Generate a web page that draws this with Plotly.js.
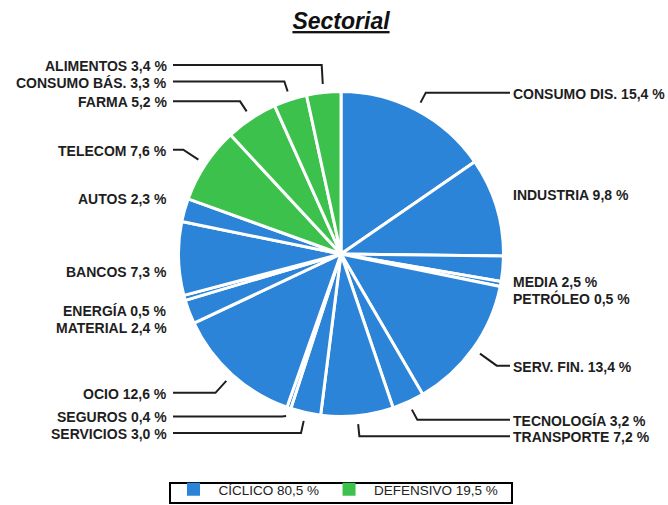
<!DOCTYPE html>
<html><head><meta charset="utf-8">
<script src="https://cdn.plot.ly/plotly-3.0.1.min.js"></script>
<style>html,body{margin:0;padding:0;background:#fff;}#chart{width:668px;height:505px;}</style>
</head><body><div id="chart"></div>
<script>
// ---- data ----
const sectors = ['CONSUMO DIS.','INDUSTRIA','MEDIA','PETRÓLEO','SERV. FIN.','TECNOLOGÍA','TRANSPORTE','SERVICIOS','SEGUROS','OCIO','MATERIAL','ENERGÍA','BANCOS','AUTOS','TELECOM','FARMA','CONSUMO BÁS.','ALIMENTOS'];
const weights = [15.4,9.8,2.5,0.5,13.4,3.2,7.2,3.0,0.4,12.6,2.4,0.5,7.3,2.3,7.6,5.2,3.3,3.4];
const sectorGroup = [0,0,0,0,0,0,0,0,0,0,0,0,0,0,1,1,1,1];
const groupNames = ['CÍCLICO','DEFENSIVO'];
const groupColors = ['#2c84d8','#3cc24c'];
const titleText = 'Sectorial';

// ---- layout constants ----
const W = 668, H = 505;
const CX = 341, CY = 254, R = 161;
const textR = CX + R + 9, textL = CX - R - 11;     // annotation anchors
const lineR = CX + R + 8, lineL = CX - R - 7;      // leader line ends
const FONT = '"Liberation Sans", Arial, Helvetica, sans-serif';

const fmt = v => v.toFixed(1).replace('.', ',') + ' %';
const total = weights.reduce((a,b)=>a+b,0);

// label geometry computed from the slice angles
let cum = 0;
const RS = R + 10, DROP = 11;
const labels = sectors.map((name,i) => {
  const th = 2*Math.PI*(cum + weights[i]/2)/total;
  cum += weights[i];
  const s = Math.sin(th), c = Math.cos(th);
  const right = s >= 0;
  const sx = CX + RS*s, sy = CY - RS*c;
  const ey = sy + (c < 0 ? DROP : -DROP) + 1;
  const ex = sx + ((ey - sy)/(-c))*s;
  const gap = right ? lineR - ex : ex - lineL;
  const hasLine = gap > 6;
  return {name, i, s, c, right, sx, sy, ex, yc: ey, hasLine};
});
[true,false].forEach(side => {
  const arr = labels.filter(l => l.right === side).sort((a,b)=>b.yc-a.yc);
  for (let k=1;k<arr.length;k++){
    if (arr[k-1].yc - arr[k].yc < 16.5) arr[k].yc = arr[k-1].yc - 16.5;
  }
});

const lx = [], ly = [];
labels.forEach(l => {
  if (!l.hasLine) return;
  lx.push(l.sx, l.ex, l.right ? lineR : lineL, null);
  ly.push(l.sy, l.yc, l.yc, null);
});

const annotations = labels.map(l => ({
  xref:'x', yref:'y', x: l.right ? textR : textL, y: l.yc + 1,
  xanchor: l.right ? 'left' : 'right', yanchor:'middle',
  text: l.name + ' ' + fmt(weights[l.i]), showarrow:false,
  font:{family:FONT, size:14, weight:'bold', color:'#1e1e1e'}
}));

const traces = [{
  type:'pie', labels:sectors, values:weights, sort:false, direction:'clockwise', rotation:0,
  marker:{colors:sectorGroup.map(g=>groupColors[g]), line:{color:'#ffffff', width:3}},
  textinfo:'none', hoverinfo:'label+percent', showlegend:false,
  domain:{x:[(CX-R-1.5)/W,(CX+R+1.5)/W], y:[1-(CY+R+1.5)/H, 1-(CY-R-1.5)/H]}
},{
  type:'scatter', mode:'lines', x:lx, y:ly, line:{color:'#1e1e1e', width:2},
  hoverinfo:'skip', showlegend:false
}];
groupNames.forEach((g,gi) => {
  const sum = weights.filter((w,i)=>sectorGroup[i]===gi).reduce((a,b)=>a+b,0);
  traces.push({type:'scatter', mode:'markers', x:[null], y:[null], name: g + ' ' + fmt(sum),
    marker:{symbol:'square', size:13, color:groupColors[gi]}, showlegend:true, hoverinfo:'skip'});
});

const layout = {
  width:W, height:H, margin:{l:0,r:0,t:0,b:0}, paper_bgcolor:'#fff', plot_bgcolor:'rgba(0,0,0,0)',
  xaxis:{range:[0,W], visible:false, fixedrange:true},
  yaxis:{range:[H,0], visible:false, fixedrange:true},
  title:{text:titleText, x:CX/W, xanchor:'center', y:1-21/H, yanchor:'middle',
    font:{family:FONT, size:23, weight:'bold', style:'italic', lineposition:'under', color:'#111'}},
  showlegend:true,
  legend:{orientation:'h', x:168.5/W, xanchor:'left', y:0, yanchor:'bottom',
    borderwidth:0, bgcolor:'rgba(0,0,0,0)', itemwidth:40,
    font:{family:FONT, size:13.5, color:'#222'}},
  shapes:[{type:'rect', xref:'x', yref:'y', x0:170, x1:512, y0:483, y1:503,
    line:{color:'#000', width:2}, fillcolor:'rgba(0,0,0,0)', layer:'above'}],
  annotations
};
Plotly.newPlot('chart', traces, layout, {displayModeBar:false, staticPlot:true});
</script></body></html>
